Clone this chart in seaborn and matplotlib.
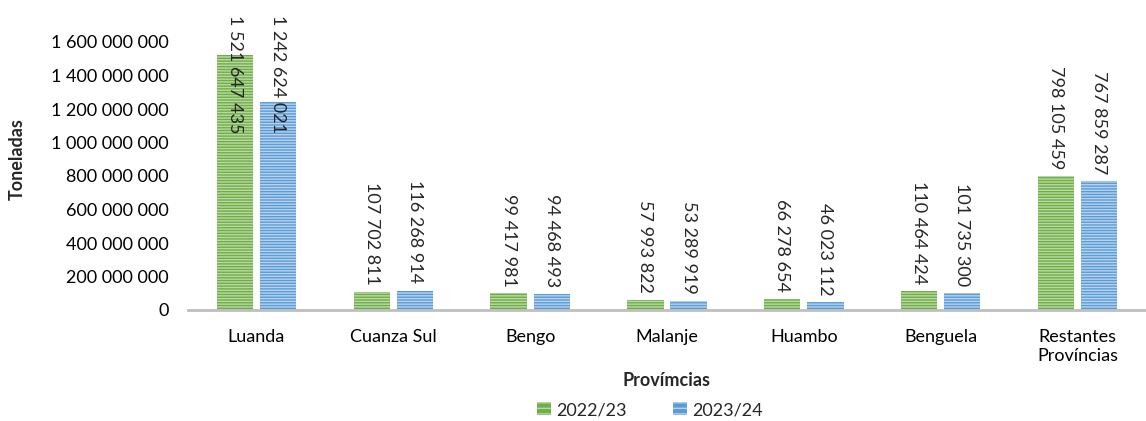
import numpy as np
import pandas as pd
import seaborn as sns
import matplotlib.pyplot as plt
from matplotlib.patches import Patch
from matplotlib.ticker import FuncFormatter, MultipleLocator

provincias = ["Luanda", "Cuanza Sul", "Bengo", "Malanje", "Huambo", "Benguela",
              "Restantes\nProvíncias"]
campanha_2022_23 = [1521647435, 107702811, 99417981, 57993822, 66278654, 110464424, 798105459]
campanha_2023_24 = [1242624021, 116268914, 94468493, 53289919, 46023112, 101735300, 767859287]
campanhas = ["2022/23", "2023/24"]

cores = ["#70AD47", "#5B9BD5"]
riscas = ["#B9D9A4", "#B7D3EF"]

df = pd.DataFrame({
    "Provincia": provincias * 2,
    "Campanha": [campanhas[0]] * len(provincias) + [campanhas[1]] * len(provincias),
    "Toneladas": campanha_2022_23 + campanha_2023_24,
})


def fmt(v):
    return f"{int(v):,}".replace(",", " ")


sns.set_style("white")
plt.rcParams["font.family"] = ["Lato", "DejaVu Sans"]
plt.rcParams["hatch.linewidth"] = 1.0

fig = plt.figure(figsize=(11.46, 4.21), dpi=100)
ax = fig.add_axes([188 / 1146, 1 - 310 / 421, 1 - 188 / 1146, (310 - 8.5) / 421])

sns.barplot(data=df, x="Provincia", y="Toneladas", hue="Campanha",
            palette=cores, width=0.63, gap=0.16, ax=ax, legend=False)

hatch = "------"
for cont, fc, hc in zip(ax.containers, cores, riscas):
    for p in cont:
        p.set_facecolor(fc)
        p.set_edgecolor(hc)
        p.set_linewidth(0)
        p.set_hatch(hatch)

ax.set_xlim(-0.5, len(provincias) - 0.5)
ax.set_ylim(0, 1.8e9)
ax.yaxis.set_major_locator(MultipleLocator(2e8))
ax.yaxis.set_major_formatter(FuncFormatter(lambda v, _: fmt(v) if v <= 1.6e9 else ""))

for s in ["top", "right", "left"]:
    ax.spines[s].set_visible(False)
ax.spines["bottom"].set_color("#BFBFBF")
ax.spines["bottom"].set_linewidth(2)
ax.tick_params(axis="both", length=0, labelsize=13, colors="black")
ax.tick_params(axis="y", pad=14)
ax.tick_params(axis="x", pad=14)

ax.set_ylabel("Toneladas", fontsize=13, fontweight="bold", labelpad=18)
ax.set_xlabel("Provímcias", fontsize=13, fontweight="bold", labelpad=6)

# value labels above each bar, pushed inside the plot when they would overflow
fig.canvas.draw()
renderer = fig.canvas.get_renderer()
ax_top = ax.get_window_extent(renderer).y1
valores = [campanha_2022_23, campanha_2023_24]
for cont, vals in zip(ax.containers, valores):
    for p, v in zip(cont, vals):
        xc = p.get_x() + p.get_width() / 2
        t = ax.annotate(fmt(v), (xc, v), xytext=(0, 5), textcoords="offset points",
                        rotation=-90, ha="center", va="bottom", fontsize=13)
        bb = t.get_window_extent(renderer)
        if bb.y1 > ax_top - 6:
            t.remove()
            ax.annotate(fmt(v), (xc, ax.get_ylim()[1]), xytext=(0, -5),
                        textcoords="offset points", rotation=-90,
                        ha="center", va="top", fontsize=13)

handles = [Patch(facecolor=fc, edgecolor=hc, linewidth=0, hatch="---", label=lab)
           for fc, hc, lab in zip(cores, riscas, campanhas)]
fig.legend(handles=handles, loc="center", bbox_to_anchor=(650 / 1146, 1 - 410 / 421),
           ncol=2, frameon=False, fontsize=13, handlelength=0.75, handleheight=0.75,
           handletextpad=0.3, columnspacing=2.6)

fig.savefig("out.png", dpi=100)
